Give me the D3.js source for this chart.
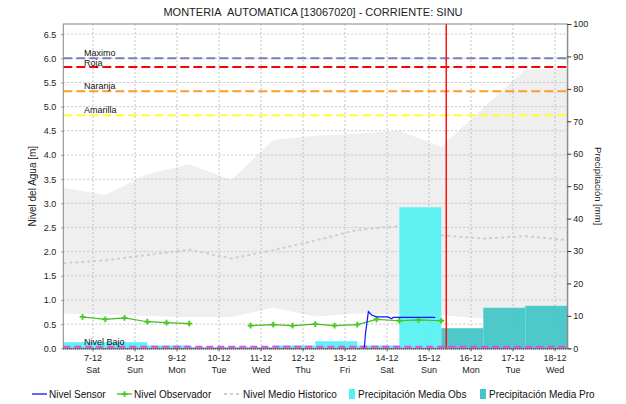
<!DOCTYPE html>
<html><head><meta charset="utf-8">
<script src="https://cdn.jsdelivr.net/npm/d3@7"></script>
<style>
html,body{margin:0;padding:0;background:#fff;}
svg{display:block;font-family:"Liberation Sans",Arial,sans-serif;}
</style></head><body>
<svg id="chart" width="626" height="404"></svg>
<script>
// ---------- data ----------
const title = "MONTERIA\u00a0 AUTOMATICA [13067020] - CORRIENTE: SINU";
const leftLabel = "Nivel del Agua [m]";
const rightLabel = "Precipitación [mm]";

// historic band & mean (daily at 07:00)
const histDates = ["2019-12-06T07:00","2019-12-07T07:00","2019-12-08T07:00","2019-12-09T07:00","2019-12-10T07:00","2019-12-11T07:00","2019-12-12T07:00","2019-12-13T07:00","2019-12-14T07:00","2019-12-15T07:00","2019-12-16T07:00","2019-12-17T07:00","2019-12-18T07:00"];
const histMax  = [3.32,3.17,3.60,3.81,3.48,4.31,4.40,4.44,4.50,4.17,4.97,5.77,5.79];
const histMin  = [0.72,0.70,0.67,0.65,0.65,0.84,0.66,0.72,0.71,0.69,0.61,0.66,0.57];
const histMean = [1.76,1.82,1.93,2.04,1.86,2.03,2.23,2.45,2.53,2.34,2.27,2.32,2.24];

// observer readings (07:00 & 18:00)
const obsDates = ["2019-12-06T18:00","2019-12-07T07:00","2019-12-07T18:00","2019-12-08T07:00","2019-12-08T18:00","2019-12-09T07:00","2019-12-09T18:00","2019-12-10T07:00","2019-12-10T18:00","2019-12-11T07:00","2019-12-11T18:00","2019-12-12T07:00","2019-12-12T18:00","2019-12-13T07:00","2019-12-13T18:00","2019-12-14T07:00","2019-12-14T18:00","2019-12-15T07:00"];
const obsValues = [0.65,0.60,0.63,0.55,0.53,0.51,null,null,0.47,0.49,0.47,0.50,0.47,0.49,0.60,0.57,0.59,0.57];

// sensor
const sensorDates = ["2019-12-13T11:00","2019-12-13T11:40","2019-12-13T13:20","2019-12-13T15:10","2019-12-13T18:00","2019-12-14T00:30","2019-12-14T02:40","2019-12-14T03:30","2019-12-15T03:30"];
const sensorValues = [0.0,0.30,0.76,0.69,0.65,0.65,0.61,0.64,0.64];

// precipitation (rain day 07:00 -> 07:00)
const precObsStart = ["2019-12-06T07:00","2019-12-07T07:00","2019-12-08T07:00","2019-12-09T07:00","2019-12-10T07:00","2019-12-11T07:00","2019-12-12T07:00","2019-12-13T07:00","2019-12-14T07:00"];
const precObsValues = [1.9,1.9,0.9,0.4,0.4,0.9,2.2,0.9,43.5];
const precProStart = ["2019-12-15T07:00","2019-12-16T07:00","2019-12-17T07:00"];
const precProValues = [6.2,12.5,13.1];

// thresholds
const thrNames  = ["Maximo","Roja","Naranja","Amarilla","Nivel Bajo"];
const thrValues = [6.0,5.82,5.32,4.82,0.03];
const thrColors = ["#7482b4","#ff0000","#ff9a2e","#ffff33","#ee44ee"];

const nowDate = "2019-12-15T09:50";
const xDomain = ["2019-12-06T07:00","2019-12-18T07:00"];
const leftTicks = [0,0.5,1,1.5,2,2.5,3,3.5,4,4.5,5,5.5,6,6.5];
const rightTicks = [0,10,20,30,40,50,60,70,80,90,100];

// ---------- drawing ----------
const P = s => new Date(s + "Z");
const svg = d3.select("#chart");
const L = 63.3, R = 567.3, T = 24, B = 348.3;

const x = d3.scaleUtc().domain(xDomain.map(P)).range([L, R]);
const y = d3.scaleLinear().domain([0, 6.71]).range([B, T]);
const y2 = d3.scaleLinear().domain([0, 100]).range([B, T]);

// title
svg.append("text").attr("x", 313).attr("y", 16).attr("text-anchor", "middle")
  .attr("font-size", 11).attr("fill", "#222").text(title);

const g = svg.append("g");

// band
const hist = histDates.map((d, i) => ({t: P(d), lo: histMin[i], hi: histMax[i], m: histMean[i]}));
g.append("path").datum(hist)
  .attr("d", d3.area().x(d => x(d.t)).y0(d => y(d.lo)).y1(d => y(d.hi)))
  .attr("fill", "#efefef");

// grid
const dayTicks = d3.utcDay.range(P("2019-12-07T00:00"), P("2019-12-18T12:00"));
g.append("g").selectAll("line").data(leftTicks.slice(1)).join("line")
  .attr("x1", L).attr("x2", R).attr("y1", d => y(d)).attr("y2", d => y(d))
  .attr("stroke", "#c4c4c4").attr("stroke-dasharray", "2,2");
g.append("g").selectAll("line").data(dayTicks).join("line")
  .attr("x1", d => x(d)).attr("x2", d => x(d)).attr("y1", T).attr("y2", B)
  .attr("stroke", "#c4c4c4").attr("stroke-dasharray", "2,2");

// mean line
g.append("path").datum(hist)
  .attr("d", d3.line().x(d => x(d.t)).y(d => y(d.m)))
  .attr("fill", "none").attr("stroke", "#cfcfcf").attr("stroke-width", 2).attr("stroke-dasharray", "3,3");

// bars
const day = 24 * 3600 * 1000;
g.append("g").selectAll("rect").data(precObsStart.map((d, i) => ({t: P(d), v: precObsValues[i]}))).join("rect")
  .attr("x", d => x(d.t)).attr("width", d => x(new Date(+d.t + day)) - x(d.t))
  .attr("y", d => y2(d.v)).attr("height", d => B - y2(d.v))
  .attr("fill", "#55f2f2").attr("fill-opacity", 0.93);
g.append("g").selectAll("rect").data(precProStart.map((d, i) => ({t: P(d), v: precProValues[i]}))).join("rect")
  .attr("x", d => x(d.t)).attr("width", d => x(new Date(+d.t + day)) - x(d.t))
  .attr("y", d => y2(d.v)).attr("height", d => B - y2(d.v))
  .attr("fill", "#45c6c6").attr("fill-opacity", 0.95);

// thresholds
thrValues.forEach((v, i) => {
  g.append("line").attr("x1", L).attr("x2", R).attr("y1", y(v)).attr("y2", y(v))
    .attr("stroke", thrColors[i]).attr("stroke-width", 2).attr("stroke-dasharray", i === 4 ? "7,4" : "9,4");
});
const thrLabelDy = [-2, -1.5, -2, -2, -2];
thrNames.forEach((n, i) => {
  svg.append("text").attr("x", 84).attr("y", y(thrValues[i]) + thrLabelDy[i])
    .attr("font-size", 9).attr("fill", "#111").text(n);
});

// observer
const obs = obsDates.map((d, i) => ({t: P(d), v: obsValues[i]}));
g.append("path").datum(obs)
  .attr("d", d3.line().defined(d => d.v !== null).x(d => x(d.t)).y(d => y(d.v)))
  .attr("fill", "none").attr("stroke", "#44bb22").attr("stroke-width", 1.2);
g.append("g").selectAll("path").data(obs.filter(d => d.v !== null)).join("path")
  .attr("transform", d => `translate(${x(d.t)},${y(d.v)})`)
  .attr("d", d3.symbol(d3.symbolCross, 18)).attr("fill", "#44cc22");

// sensor
const sen = sensorDates.map((d, i) => ({t: P(d), v: sensorValues[i]}));
g.append("path").datum(sen)
  .attr("d", d3.line().x(d => x(d.t)).y(d => y(d.v)))
  .attr("fill", "none").attr("stroke", "#1010ff").attr("stroke-width", 1.2);

// now line
g.append("line").attr("x1", x(P(nowDate))).attr("x2", x(P(nowDate))).attr("y1", T).attr("y2", B)
  .attr("stroke", "#ff1010").attr("stroke-width", 1.5);

// border
svg.append("rect").attr("x", L).attr("y", T).attr("width", R - L).attr("height", B - T)
  .attr("fill", "none").attr("stroke", "#888").attr("stroke-width", 1);
svg.append("line").attr("x1", L).attr("x2", R).attr("y1", B + 0.7).attr("y2", B + 0.7)
  .attr("stroke", "#333").attr("stroke-width", 1.3).attr("stroke-dasharray", "1,1");

// left axis
const la = svg.append("g").attr("transform", `translate(${L},0)`)
  .call(d3.axisLeft(y).tickValues(leftTicks).tickFormat(d3.format(".1f")).tickSize(2).tickPadding(5));
la.select(".domain").remove();
la.selectAll("line").attr("stroke", "#888");
la.selectAll("text").attr("font-size", 9).attr("fill", "#222").attr("font-family", "Liberation Sans, Arial, sans-serif");

// right axis
const ra = svg.append("g").attr("transform", `translate(${R},0)`)
  .call(d3.axisRight(y2).tickValues(rightTicks).tickSize(4).tickPadding(2));
ra.select(".domain").attr("stroke", "#888");
ra.selectAll("line").attr("stroke", "#333");
ra.selectAll("text").attr("font-size", 9).attr("fill", "#222").attr("font-family", "Liberation Sans, Arial, sans-serif");

// bottom axis (two-line labels)
const xt = svg.append("g");
dayTicks.forEach(d => {
  xt.append("line").attr("x1", x(d)).attr("x2", x(d)).attr("y1", B).attr("y2", B + 3).attr("stroke", "#555");
  xt.append("text").attr("x", x(d)).attr("y", B + 13).attr("text-anchor", "middle")
    .attr("font-size", 9).attr("fill", "#222").text(d3.utcFormat("%-d-%m")(d));
  xt.append("text").attr("x", x(d)).attr("y", B + 24.5).attr("text-anchor", "middle")
    .attr("font-size", 9).attr("fill", "#222").text(d3.utcFormat("%a")(d));
});

// axis titles
svg.append("text").attr("transform", `translate(36,${(T + B) / 2}) rotate(-90)`)
  .attr("text-anchor", "middle").attr("font-size", 10).attr("fill", "#222").text(leftLabel);
svg.append("text").attr("transform", `translate(595,${(T + B) / 2}) rotate(90)`)
  .attr("text-anchor", "middle").attr("font-size", 9.5).attr("fill", "#222").text(rightLabel);

// legend
const lg = svg.append("g").attr("font-size", 10).attr("fill", "#111");
const ly = 394;
lg.append("line").attr("x1", 32).attr("x2", 47).attr("y1", ly).attr("y2", ly).attr("stroke", "#1010ff").attr("stroke-width", 1.3);
lg.append("text").attr("x", 49).attr("y", ly + 3.5).text("Nivel Sensor");
lg.append("line").attr("x1", 117).attr("x2", 132).attr("y1", ly).attr("y2", ly).attr("stroke", "#44bb22").attr("stroke-width", 1.3);
lg.append("path").attr("transform", `translate(124.5,${ly})`).attr("d", d3.symbol(d3.symbolCross, 18)).attr("fill", "#44cc22");
lg.append("text").attr("x", 134).attr("y", ly + 3.5).text("Nivel Observador");
lg.append("line").attr("x1", 224).attr("x2", 240).attr("y1", ly).attr("y2", ly).attr("stroke", "#cfcfcf").attr("stroke-width", 2).attr("stroke-dasharray", "3,3");
lg.append("text").attr("x", 243).attr("y", ly + 3.5).text("Nivel Medio Historico");
lg.append("rect").attr("x", 349).attr("y", ly - 5).attr("width", 6).attr("height", 10).attr("fill", "#55f2f2");
lg.append("text").attr("x", 358).attr("y", ly + 3.5).text("Precipitación Media Obs");
lg.append("rect").attr("x", 480).attr("y", ly - 5).attr("width", 6).attr("height", 10).attr("fill", "#45c6c6");
lg.append("text").attr("x", 489).attr("y", ly + 3.5).text("Precipitación Media Pro");
</script>
</body></html>
